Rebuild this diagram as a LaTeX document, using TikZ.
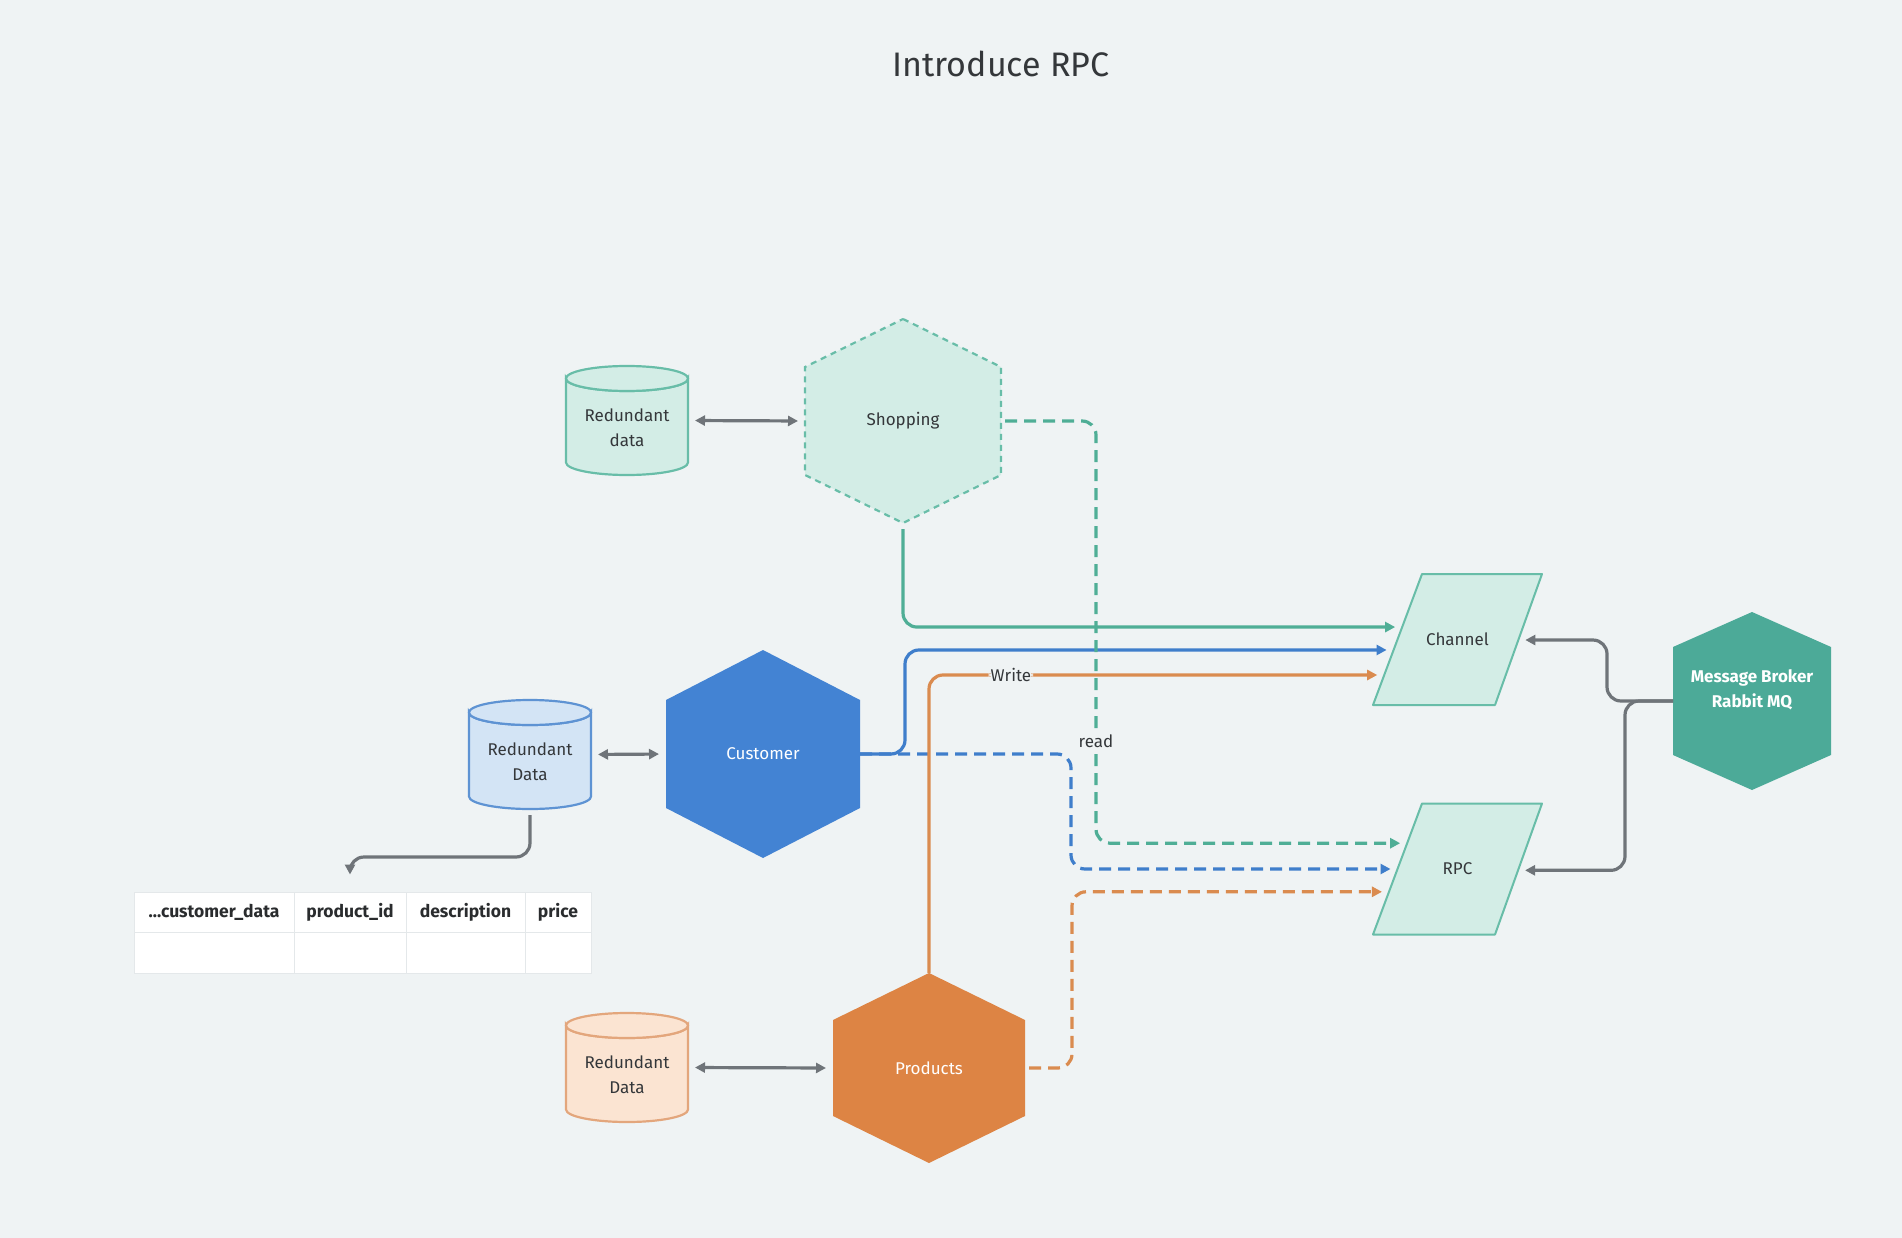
\documentclass[tikz,border=0pt]{standalone}
\usepackage{fontspec}
\setmainfont{Fira Sans}
\usetikzlibrary{arrows.meta,calc,shapes.geometric}
\definecolor{bg}{HTML}{EFF3F4}
\definecolor{txt}{HTML}{34373A}
\definecolor{gline}{HTML}{4FAE96}
\definecolor{gfill}{HTML}{D3EDE6}
\definecolor{gstroke}{HTML}{68BDA8}
\definecolor{broker}{HTML}{4CAA98}
\definecolor{bline}{HTML}{3F7ECB}
\definecolor{bhex}{HTML}{4383D3}
\definecolor{bfill}{HTML}{D3E4F5}
\definecolor{bstroke}{HTML}{5E93D3}
\definecolor{oline}{HTML}{DA8B4F}
\definecolor{ohex}{HTML}{DD8444}
\definecolor{ofill}{HTML}{FBE4D2}
\definecolor{ostroke}{HTML}{E3A67C}
\definecolor{grayl}{HTML}{6F7479}
\definecolor{tline}{HTML}{E4E8EA}
\newcommand\hexshape[5]{\path[#5] ($(#1)+(0,-#3)$) -- ($(#1)+(#2,-#4)$) -- ($(#1)+(#2,#4)$) -- ($(#1)+(0,#3)$) -- ($(#1)+(-#2,#4)$) -- ($(#1)+(-#2,-#4)$) -- cycle;}
\newcommand\cylshape[4]{%
  \path[fill=#3, draw=#4, line width=2.2pt] (#1-61,#2-42) -- (#1-61,#2+42) arc[start angle=180,end angle=0,x radius=61,y radius=12.5] -- (#1+61,#2-42) arc[start angle=0,end angle=180,x radius=61,y radius=12.5] -- cycle;
  \path[fill=#3, draw=#4, line width=2.2pt] (#1,#2-42) ellipse[x radius=61,y radius=12.5];}
% parallelogram: #1 prefix, #2 cx, #3 cy
\newcommand\parashape[3]{%
  \coordinate (#1tl) at (#2-35.5,#3-65.5);
  \coordinate (#1tr) at (#2+84.5,#3-65.5);
  \coordinate (#1br) at (#2+37.5,#3+65.5);
  \coordinate (#1bl) at (#2-84.5,#3+65.5);
  \path[fill=gfill, draw=gstroke, line width=2pt, line join=round] (#1tl) -- (#1tr) -- (#1br) -- (#1bl) -- cycle;}
\begin{document}
\begin{tikzpicture}[x=1pt,y=-1pt,
  lbl/.style={font=\fontsize{17}{25}\selectfont, text=txt, align=center},
  wlbl/.style={font=\fontsize{17}{25}\selectfont, text=white, align=center},
  box/.style={inner sep=0pt, outer sep=0pt},
  conn/.style={line width=3.2pt, rounded corners=14pt, -{Triangle[length=10pt,width=10pt]}, shorten >=7pt},
  dashln/.style={dash pattern=on 12pt off 7pt},
  dbl/.style={line width=3.2pt, draw=grayl, {Triangle[length=10pt,width=10pt]}-{Triangle[length=10pt,width=10pt]}, shorten <=7pt, shorten >=7pt},
  cell/.style={draw=tline, line width=1pt, fill=white, inner sep=0pt, font=\fontsize{17.5}{20}\selectfont\bfseries, text=txt!80!black},
  tag/.style={lbl, fill=bg, inner sep=2pt}
]
\path[fill=bg] (0,0) rectangle (1902,1238);
\useasboundingbox (0,0) rectangle (1902,1238);

\node[lbl, font=\fontsize{34}{40}\selectfont] (title) at (1001,64) {Introduce RPC};

% hexagons
\coordinate (shopc) at (903,421);
\hexshape{shopc}{98}{102}{54}{fill=gfill, draw=gstroke, line width=2.2pt, dash pattern=on 6pt off 5pt}
\node[box, lbl, minimum width=196pt, minimum height=204pt] (shop) at (shopc) {Shopping};

\coordinate (cuc) at (763,754);
\hexshape{cuc}{97}{104}{54}{fill=bhex}
\node[box, wlbl, minimum width=194pt, minimum height=208pt] (cu) at (cuc) {Customer};

\coordinate (prc) at (929,1068);
\hexshape{prc}{96}{95}{48}{fill=ohex}
\node[box, wlbl, minimum width=192pt, minimum height=190pt] (pr) at (prc) {Products};

\coordinate (brc) at (1752,701);
\hexshape{brc}{79}{89}{54}{fill=broker}
\node[box, minimum width=158pt, minimum height=178pt, label={[wlbl, font=\fontsize{17}{25}\selectfont\bfseries, yshift=11pt]center:{Message Broker\\Rabbit MQ}}] (br) at (brc) {};

% cylinders
\cylshape{627}{420.5}{gfill}{gstroke}
\node[box, minimum width=122pt, minimum height=109pt, label={[lbl, yshift=-7pt]center:{Redundant\\data}}] (shopdb) at (627,420.5) {};
\cylshape{530}{754.5}{bfill}{bstroke}
\node[box, minimum width=122pt, minimum height=107pt, label={[lbl, yshift=-7pt]center:{Redundant\\Data}}] (cudb) at (530,754.5) {};
\cylshape{627}{1067.5}{ofill}{ostroke}
\node[box, minimum width=122pt, minimum height=109pt, label={[lbl, yshift=-7pt]center:{Redundant\\Data}}] (prdb) at (627,1067.5) {};

% channel and rpc
\parashape{ch}{1457.5}{639.5}
\node[box, lbl] (ch) at (1457.5,639.5) {Channel};
\parashape{rpc}{1457.5}{869}
\node[box, lbl] (rpc) at (1457.5,869) {RPC};

% table
\node[cell, minimum width=160pt, minimum height=40pt] (tcd) at (214,912) {...customer\_data};
\node[cell, minimum width=112pt, minimum height=40pt] (tpid) at (350,912) {product\_id};
\node[cell, minimum width=119pt, minimum height=40pt] (tdesc) at (465.5,912) {description};
\node[cell, minimum width=66pt, minimum height=40pt] (tprice) at (558,912) {price};
\node[cell, minimum width=160pt, minimum height=41pt] (bcd) at (214,952.5) {};
\node[cell, minimum width=112pt, minimum height=41pt] (bpid) at (350,952.5) {};
\node[cell, minimum width=119pt, minimum height=41pt] (bdesc) at (465.5,952.5) {};
\node[cell, minimum width=66pt, minimum height=41pt] (bprice) at (558,952.5) {};

% double arrows
\draw[dbl] (shopdb.east) -- (shop.west);
\draw[dbl] (cudb.east) -- (cu.west);
\draw[dbl] (prdb.east) -- (pr.west);

% db to table
\draw[conn, draw=grayl] ($(cudb.south)+(0,7)$) -- ++(0,42) -| ($(tpid.north)+(0,-10)$);

% dashed to RPC
\draw[conn, dashln, draw=bline] (cu.east) -- ++(211,0) |- ($(rpcbl)!0.5!(rpctl)$);
\draw[conn, dashln, draw=oline] ($(pr.east)+(4,0)$) -- ++(43,0) |- ($(rpcbl)!0.326!(rpctl)$);

% solid to channel
\draw[conn, draw=oline] (pr.north) |- node[tag, pos=0.59]{Write} ($(chbl)!0.229!(chtl)$);
\draw[conn, draw=bline] (cu.east) -- ++(45,0) |- ($(chbl)!0.42!(chtl)$);
\draw[conn, draw=gline] ($(shop.south)+(0,6)$) |- ($(chbl)!0.595!(chtl)$);

% green dashed read
\draw[conn, dashln, draw=gline] ($(shop.east)+(4,0)$) -- ++(91,0) |- node[tag, pos=0.379]{read} ($(rpcbl)!0.697!(rpctl)$);

% broker connections
\draw[conn, draw=grayl] (br.west) -- ++(-66,0) |- ($(chbr)!0.496!(chtr)$);
\draw[conn, draw=grayl] (br.west) -- ++(-48,0) |- ($(rpcbr)!0.49!(rpctr)$);
\end{tikzpicture}
\end{document}
